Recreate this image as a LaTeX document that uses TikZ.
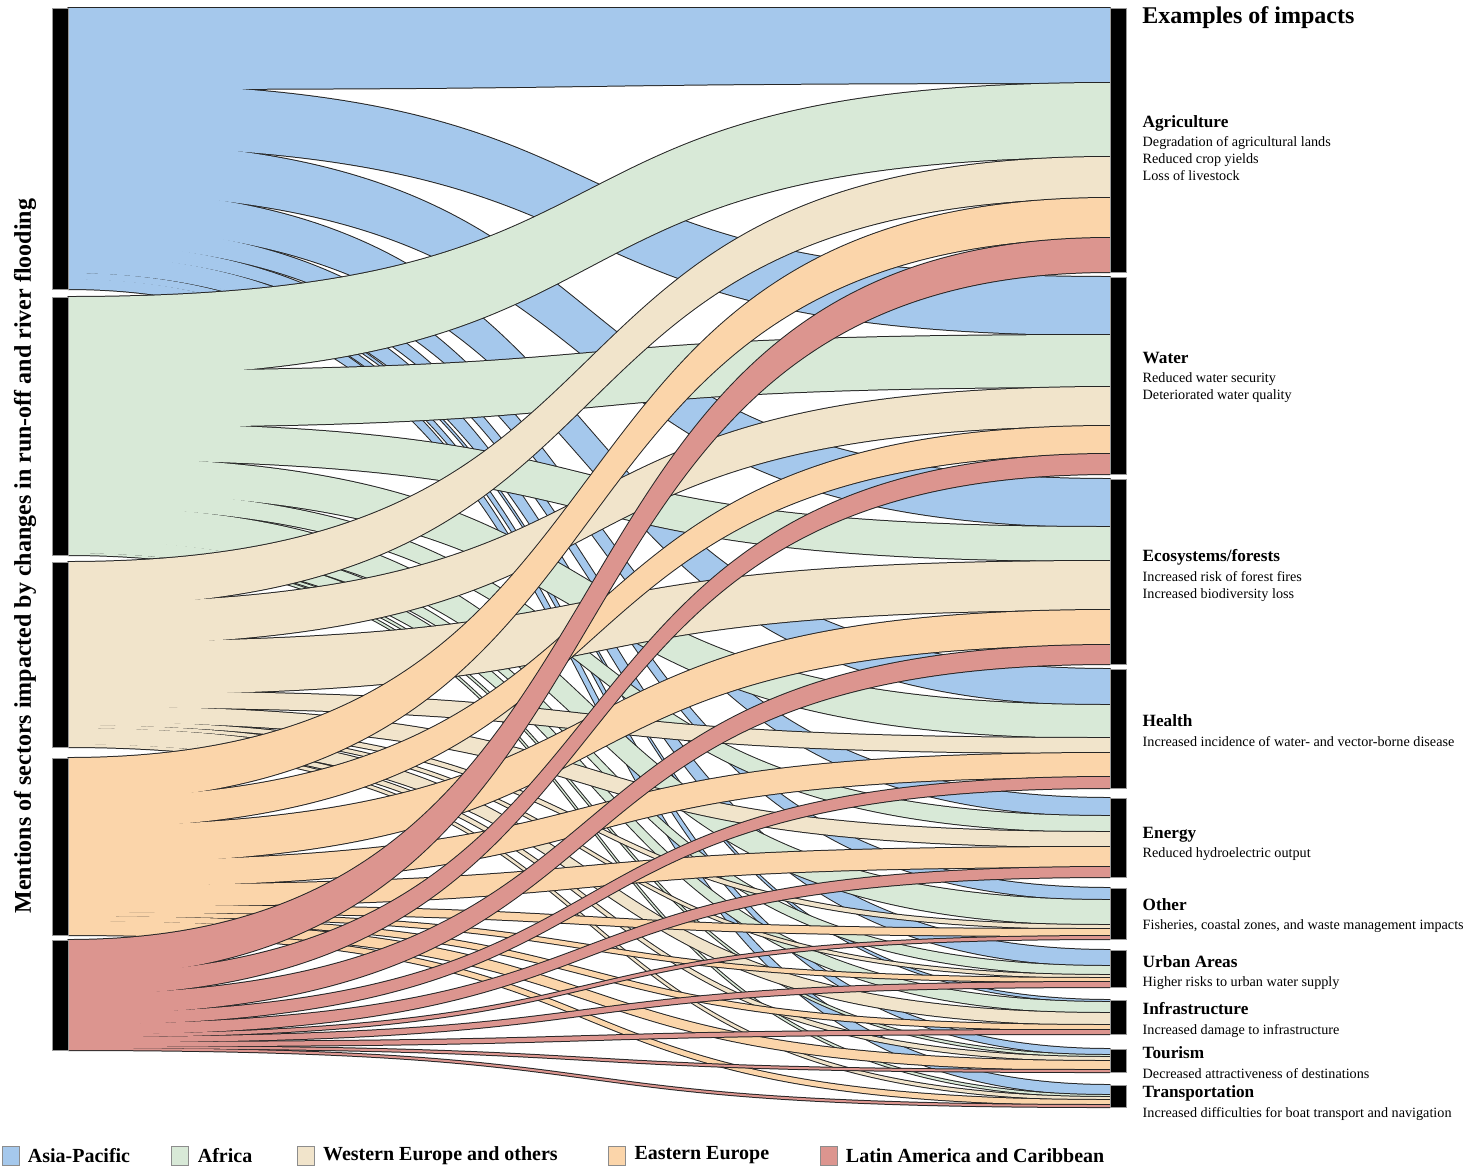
\documentclass[tikz,border=0pt]{standalone}
\usepackage{fontspec}
\setmainfont{Liberation Serif}
\usetikzlibrary{positioning}

\definecolor{asiapac}{RGB}{165,200,236}
\definecolor{africa}{RGB}{216,233,215}
\definecolor{weog}{RGB}{241,228,203}
\definecolor{easteu}{RGB}{251,213,170}
\definecolor{latam}{RGB}{220,149,143}

\tikzset{
  flowline/.style={draw=black!85, line width=1pt, line join=round},
  bar/.style={draw=black!40, fill=black, line width=0.3pt, minimum width=8pt, inner sep=0pt},
  sector/.style={align=left, inner sep=0pt, font=\fontsize{7.1}{8.6}\selectfont},
  legbox/.style={draw=black!45, line width=0.5pt, minimum width=8.5pt, minimum height=9.5pt, inner sep=0pt},
  legtext/.style={inner sep=0pt, font=\bfseries\fontsize{10}{12}\selectfont}
}

% one flow: band from the region bars (x=68) to the sector bars (x=1110),
% a little wider (#5) where it leaves its region
\newcommand{\band}[5][]{%
  \path[#1] (68,#2) .. controls (693,#2) and (485,#3) .. (1110,#3)
    -- (1110,{#3+#4}) .. controls (485,{#3+#4}) and (693,{#2+#4+#5}) .. (68,{#2+#4+#5}) -- cycle;}

% all flows of one region: outlines first, fills on top
\newcommand{\regionflows}[3]{%
  \xdef\srcy{#2}%
  \foreach \val [count=\sno] in {#3}{
    \edef\tgt{\csname tgty\sno\endcsname}
    \pgfmathsetmacro\ext{\sno<10 ? 0.08*\val : 0}
    \band[flowline]{\srcy}{\tgt}{\val}{\ext}
    \pgfmathsetmacro\nxt{\srcy+\val}\xdef\srcy{\nxt}
  }%
  \xdef\srcy{#2}%
  \foreach \val [count=\sno] in {#3}{
    \edef\tgt{\csname tgty\sno\endcsname}
    \pgfmathsetmacro\ext{\sno<10 ? 0.08*\val : 0}
    \band[fill=#1]{\srcy}{\tgt}{\val}{\ext}
    \pgfmathsetmacro\nxt{\srcy+\val}\xdef\srcy{\nxt}
    \pgfmathsetmacro\nxt{\tgt+\val}
    \expandafter\xdef\csname tgty\sno\endcsname{\nxt}
  }%
}

\begin{document}
\begin{tikzpicture}[x=0.5pt,y=-0.5pt]
\useasboundingbox (0,0) rectangle (1465,1169);

% top of each sector bar
\foreach \ytop [count=\sno] in {8,277,479,669,798,888,950,1000,1049,1085}
  {\expandafter\xdef\csname tgty\sno\endcsname{\ytop}}

% flows: Agric, Water, Eco, Health, Energy, Other, Urban, Infra, Tourism, Transport
\regionflows{asiapac}{8}{75,58,48,36,18,12,16,2,6,10}
\regionflows{africa}{297}{74,52,34,33,16,25,9,11,2,2}
\regionflows{weog}{562}{41,39,49,15,15,4,3,12,4,3}
\regionflows{easteu}{758}{40,28,35,24,20,7,4,5,9,5}
\regionflows{latam}{940}{34,20,19,11,10,3,5,4,2,2}

% region bars
\foreach \nm/\yc/\h in {ap/148.5/140.5, af/426/129, we/654.5/92.5, ee/846.5/88.5, la/995/55}
  \node[bar, minimum height=\h pt] (\nm) at (60,\yc) {};

% sector bars
\foreach \nm/\yc/\h in {agr/140/132, wat/375.5/98.5, eco/571.5/92.5, hea/728.5/59.5,
    ene/837.5/39.5, oth/913.5/25.5, urb/968.5/18.5, inf/1017/17, tou/1060.5/11.5, tra/1096/11}
  \node[bar, minimum height=\h pt] (\nm) at (1118,\yc) {};

\node[rotate=90, font=\bfseries\fontsize{12}{14}\selectfont] (ylab) at (25,556)
  {Mentions of sectors impacted by changes in run-off and river flooding};

\node[anchor=west, inner sep=0pt, font=\bfseries\fontsize{12}{14}\selectfont] (title) at (1142,18)
  {Examples of impacts};

% sector labels
\node[sector, right=8pt of agr, yshift=-4pt] (agrtxt) {{\bfseries\fontsize{8.6}{10}\selectfont Agriculture}\\[1pt]
  Degradation of agricultural lands\\Reduced crop yields\\Loss of livestock};
\node[sector, right=8pt of wat, yshift=-1pt] (wattxt) {{\bfseries\fontsize{8.6}{10}\selectfont Water}\\[1pt]
  Reduced water security\\Deteriorated water quality};
\node[sector, right=8pt of eco, yshift=-2pt] (ecotxt) {{\bfseries\fontsize{8.6}{10}\selectfont Ecosystems/forests}\\[1pt]
  Increased risk of forest fires\\Increased biodiversity loss};
\node[sector, right=8pt of hea, yshift=-1pt] (heatxt) {{\bfseries\fontsize{8.6}{10}\selectfont Health}\\[1pt]
  Increased incidence of water- and vector-borne disease};
\node[sector, right=8pt of ene, yshift=-3pt] (enetxt) {{\bfseries\fontsize{8.6}{10}\selectfont Energy}\\[1pt]
  Reduced hydroelectric output};
\node[sector, right=8pt of oth, yshift=-1pt] (othtxt) {{\bfseries\fontsize{8.6}{10}\selectfont Other}\\[1pt]
  Fisheries, coastal zones, and waste management impacts};
\node[sector, right=8pt of urb, yshift=-2pt] (urbtxt) {{\bfseries\fontsize{8.6}{10}\selectfont Urban Areas}\\[1pt]
  Higher risks to urban water supply};
\node[sector, right=8pt of inf, yshift=-1.5pt] (inftxt) {{\bfseries\fontsize{8.6}{10}\selectfont Infrastructure}\\[1pt]
  Increased damage to infrastructure};
\node[sector, right=8pt of tou, yshift=-1pt] (toutxt) {{\bfseries\fontsize{8.6}{10}\selectfont Tourism}\\[1pt]
  Decreased attractiveness of destinations};
\node[sector, right=8pt of tra, yshift=-3.5pt] (tratxt) {{\bfseries\fontsize{8.6}{10}\selectfont Transportation}\\[1pt]
  Increased difficulties for boat transport and navigation};

% legend
\node[legbox, fill=asiapac] (kap) at (10.5,1155.5) {};
\node[legtext, right=4pt of kap] (tap) {Asia-Pacific};
\node[legbox, fill=africa, right=20.5pt of tap] (kaf) {};
\node[legtext, right=4pt of kaf] (taf) {Africa};
\node[legbox, fill=weog, right=22pt of taf] (kwe) {};
\node[legtext, right=4pt of kwe] (twe) {Western Europe and others};
\node[legbox, fill=easteu, right=25pt of twe] (kee) {};
\node[legtext, right=4pt of kee] (tee) {Eastern Europe};
\node[legbox, fill=latam, right=25pt of tee] (kla) {};
\node[legtext, right=4pt of kla] (tla) {Latin America and Caribbean};
\end{tikzpicture}
\end{document}
